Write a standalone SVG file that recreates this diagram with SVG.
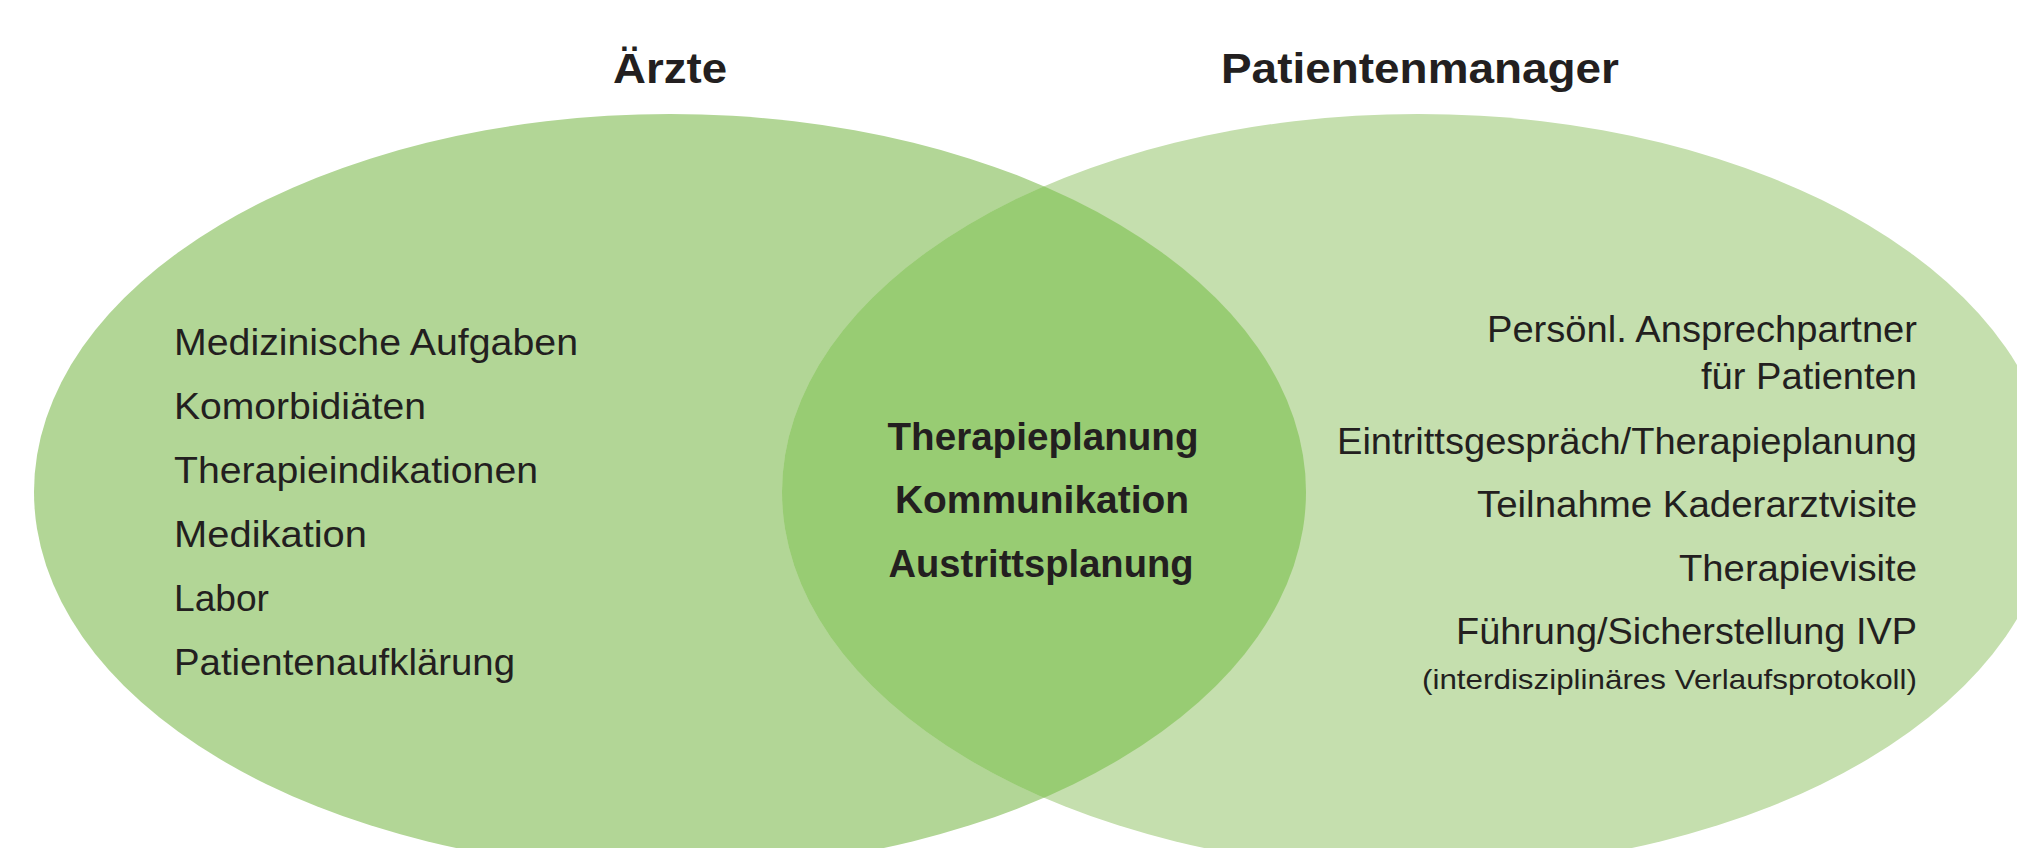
<svg xmlns="http://www.w3.org/2000/svg" width="2017" height="848" viewBox="0 0 2017 848">
<style>
.t{font-family:"Liberation Sans",Arial,sans-serif;fill:#231f20;font-size:37px}
.b{font-weight:bold;font-size:38px}
.s{font-size:28px}
.h{font-family:"Liberation Sans",Arial,sans-serif;fill:#231f20;font-weight:bold;font-size:43px;text-anchor:middle}
.r{text-anchor:end}
.m{text-anchor:middle}
</style>
<defs>
<clipPath id="clipL"><ellipse cx="670" cy="492" rx="636" ry="378"/></clipPath>
</defs>
<rect width="2017" height="848" fill="#ffffff"/>
<g id="aerzte">
<ellipse cx="670" cy="492" rx="636" ry="378" fill="#b2d696"/>
<text class="h" x="670" y="83" textLength="114" lengthAdjust="spacingAndGlyphs">Ärzte</text>
<text class="t" x="174" y="355" textLength="404" lengthAdjust="spacingAndGlyphs">Medizinische Aufgaben</text>
<text class="t" x="174" y="419" textLength="252" lengthAdjust="spacingAndGlyphs">Komorbidiäten</text>
<text class="t" x="174" y="483" textLength="364" lengthAdjust="spacingAndGlyphs">Therapieindikationen</text>
<text class="t" x="174" y="547" textLength="193" lengthAdjust="spacingAndGlyphs">Medikation</text>
<text class="t" x="174" y="611" textLength="95" lengthAdjust="spacingAndGlyphs">Labor</text>
<text class="t" x="174" y="675" textLength="341" lengthAdjust="spacingAndGlyphs">Patientenaufklärung</text>
</g>
<g id="patientenmanager">
<ellipse cx="1418" cy="492" rx="636" ry="378" fill="#c5dfae"/>
<text class="h" x="1420" y="83" textLength="398" lengthAdjust="spacingAndGlyphs">Patientenmanager</text>
<text class="t r" x="1917" y="342" textLength="430" lengthAdjust="spacingAndGlyphs">Persönl. Ansprechpartner</text>
<text class="t r" x="1917" y="389" textLength="216" lengthAdjust="spacingAndGlyphs">für Patienten</text>
<text class="t r" x="1917" y="454" textLength="580" lengthAdjust="spacingAndGlyphs">Eintrittsgespräch/Therapieplanung</text>
<text class="t r" x="1917" y="517" textLength="440" lengthAdjust="spacingAndGlyphs">Teilnahme Kaderarztvisite</text>
<text class="t r" x="1917" y="581" textLength="238" lengthAdjust="spacingAndGlyphs">Therapievisite</text>
<text class="t r" x="1917" y="644" textLength="461" lengthAdjust="spacingAndGlyphs">Führung/Sicherstellung IVP</text>
<text class="t s r" x="1917" y="689" textLength="495" lengthAdjust="spacingAndGlyphs">(interdisziplinäres Verlaufsprotokoll)</text>
</g>
<g id="schnittmenge">
<ellipse cx="1418" cy="492" rx="636" ry="378" fill="#98cc73" clip-path="url(#clipL)"/>
<text class="t b m" x="1043" y="450" textLength="311" lengthAdjust="spacingAndGlyphs">Therapieplanung</text>
<text class="t b m" x="1042" y="513" textLength="294" lengthAdjust="spacingAndGlyphs">Kommunikation</text>
<text class="t b m" x="1041" y="577" textLength="305" lengthAdjust="spacingAndGlyphs">Austrittsplanung</text>
</g>
<g id="connectors"/>
</svg>
